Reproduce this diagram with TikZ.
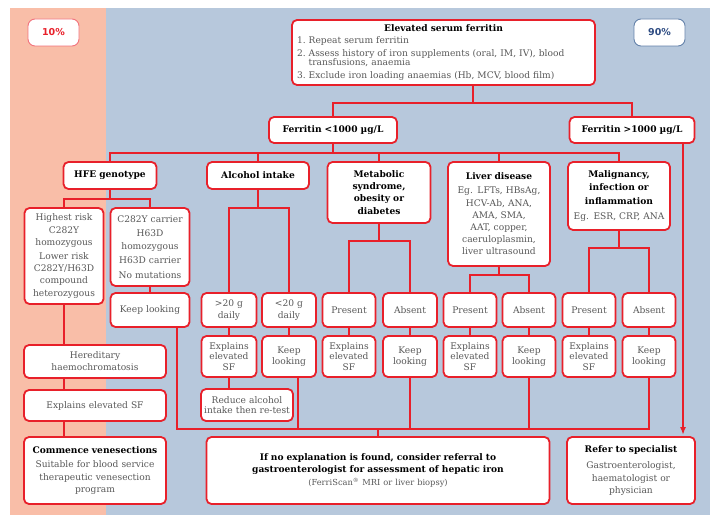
\documentclass[tikz,border=0pt]{standalone}
\usepackage{fontspec}
\setmainfont{DejaVu Serif}
\setsansfont{DejaVu Sans}
\usetikzlibrary{arrows.meta}

\definecolor{flowred}{RGB}{232,32,42}
\definecolor{salmon}{RGB}{249,190,168}
\definecolor{greyblue}{RGB}{183,200,220}
\definecolor{bodytext}{RGB}{88,88,88}
\definecolor{pctblue}{RGB}{45,75,130}
\definecolor{pctedge}{RGB}{100,130,170}
\definecolor{pctpink}{RGB}{242,115,125}

\newcommand{\boxhead}[1]{{\color{black}\bfseries #1}}

\begin{document}
\begin{tikzpicture}[x=1pt,y=-1pt]
    \tikzstyle{every node}=[font=\fontsize{9.1}{12.2}\selectfont, text=bodytext]
    \tikzstyle{box}=[draw=flowred, fill=white, line width=1.8pt, rounded corners=5pt, align=center, inner sep=2pt, outer sep=0pt]
    \tikzstyle{tight}=[box, font=\fontsize{9.1}{10.6}\selectfont]
    \tikzstyle{pct}=[fill=white, line width=0.9pt, rounded corners=7pt, minimum width=51pt, minimum height=27pt, font=\sffamily\bfseries\fontsize{9.5}{11}\selectfont]
    \tikzstyle{link}=[draw=flowred, line width=2pt]

    \useasboundingbox (0,0) rectangle (719,521);
    \fill[salmon] (10,8) rectangle (106,515);
    \fill[greyblue] (106,8) rectangle (710,515);

    \node[pct, draw=pctpink, text=flowred] (ten) at (53.5,32.5) {10\%};
    \node[pct, draw=pctedge, text=pctblue] (ninety) at (659.5,32.5) {90\%};

    \node[box, align=left, text width=299pt, minimum height=65pt] (serum) at (443.5,52.5)
    {\centerline{\boxhead{Elevated serum ferritin}}
    \hspace*{3pt}1.~Repeat serum ferritin\\[0.5pt]
    \hspace*{3pt}2.~Assess history of iron supplements (oral, IM, IV), blood\\[-2.5pt]
    \hspace*{3pt}\phantom{2.~}transfusions, anaemia\\[0.5pt]
    \hspace*{3pt}3.~Exclude iron loading anaemias (Hb, MCV, blood film)};

    \node[box, text width=124pt, minimum height=26pt] (low) at (333,130) {\boxhead{Ferritin <1000 µg/L}};
    \node[box, text width=121pt, minimum height=26pt] (high) at (632,130) {\boxhead{Ferritin >1000 µg/L}};

    \node[box, text width=89pt, minimum height=27pt] (hfe) at (110,175.5) {\boxhead{HFE genotype}};
    \node[box, text width=98pt, minimum height=27pt] (alcohol) at (258,175.5) {\boxhead{Alcohol intake}};
    \node[box, text width=99pt, minimum height=61pt] (metabolic) at (379,192.5)
    {\boxhead{Metabolic\\syndrome,\\obesity or\\diabetes}};
    \node[box, text width=98pt, minimum height=104pt] (liver) at (499,214)
    {\boxhead{Liver disease}\\[2pt]Eg. LFTs, HBsAg,\\HCV-Ab, ANA,\\AMA, SMA,\\AAT, copper,\\caeruloplasmin,\\liver ultrasound};
    \node[box, text width=98pt, minimum height=68pt] (malignancy) at (619,196)
    {\boxhead{Malignancy,\\[1pt]infection or\\[1pt]inflammation}\\[3pt]Eg. ESR, CRP, ANA};

    \node[box, text width=75pt, minimum height=96pt] (homo) at (64,256)
    {Highest risk\\C282Y\\homozygous\\[2pt]Lower risk\\C282Y/H63D\\compound\\heterozygous};
    \node[box, text width=75pt, minimum height=78pt] (carrier) at (150,247)
    {C282Y carrier\\[2.5pt]H63D\\homozygous\\[2.5pt]H63D carrier\\[2.5pt]No mutations};
    \node[box, text width=75pt, minimum height=34pt] (hfekeep) at (150,310) {Keep looking};

    \node[box, text width=51pt, minimum height=34pt] (gt20) at (229,310) {>20 g\\daily};
    \node[box, text width=50pt, minimum height=34pt] (lt20) at (289,310) {<20 g\\daily};
    \node[box, text width=49pt, minimum height=34pt] (metpres) at (349,310) {Present};
    \node[box, text width=50pt, minimum height=34pt] (metabs) at (410,310) {Absent};
    \node[box, text width=49pt, minimum height=34pt] (livpres) at (470,310) {Present};
    \node[box, text width=49pt, minimum height=34pt] (livabs) at (529,310) {Absent};
    \node[box, text width=49pt, minimum height=34pt] (malpres) at (589,310) {Present};
    \node[box, text width=49pt, minimum height=34pt] (malabs) at (649,310) {Absent};

    \node[tight, text width=51pt, minimum height=41pt] (alcexp) at (229,356.5) {Explains\\elevated\\SF};
    \node[tight, text width=50pt, minimum height=41pt] (alckeep) at (289,356.5) {Keep\\looking};
    \node[tight, text width=49pt, minimum height=41pt] (metexp) at (349,356.5) {Explains\\elevated\\SF};
    \node[tight, text width=50pt, minimum height=41pt] (metkeep) at (410,356.5) {Keep\\looking};
    \node[tight, text width=49pt, minimum height=41pt] (livexp) at (470,356.5) {Explains\\elevated\\SF};
    \node[tight, text width=49pt, minimum height=41pt] (livkeep) at (529,356.5) {Keep\\looking};
    \node[tight, text width=49pt, minimum height=41pt] (malexp) at (589,356.5) {Explains\\elevated\\SF};
    \node[tight, text width=49pt, minimum height=41pt] (malkeep) at (649,356.5) {Keep\\looking};
    \node[tight, text width=88pt, minimum height=32pt] (reduce) at (247,405) {Reduce alcohol\\intake then re-test};

    \node[box, text width=138pt, minimum height=33pt] (hh) at (95,361.5) {Hereditary\\haemochromatosis};
    \node[box, text width=138pt, minimum height=31pt] (hfeexp) at (95,405.5) {Explains elevated SF};
    \node[box, text width=138pt, minimum height=67pt] (commence) at (95,470.5)
    {\boxhead{Commence venesections}\\[2pt]Suitable for blood service\\therapeutic venesection\\program};
    \node[box, text width=339pt, minimum height=67pt] (noexp) at (378,470.5)
    {\boxhead{If no explanation is found, consider referral to\\gastroenterologist for assessment of hepatic iron}\\[1pt]
    {\fontsize{8.3}{10}\selectfont(FerriScan\textsuperscript{\textregistered} MRI or liver biopsy)}};
    \node[box, text width=124pt, minimum height=67pt] (refer) at (631,470.5)
    {\boxhead{Refer to specialist}\\[4pt]Gastroenterologist,\\haematologist or\\physician};

    \draw[link] ([xshift=29.5pt]serum.south) -- ++(0,18);
    \draw[link] (low.north) -- ++(0,-14) -| (high.north);
    \draw[link] (low.south) -- ++(0,10);
    \draw[link] (hfe.north) -- ++(0,-9) -| (malignancy.north);
    \draw[link] (alcohol.north) -- ++(0,-9);
    \draw[link] (metabolic.north) -- ++(0,-9);
    \draw[link] (liver.north) -- ++(0,-9);

    \draw[link] (hfe.south) -- ++(0,10) -| (homo.north);
    \draw[link] (hfe.south) ++(0,10) -| (carrier.north);
    \draw[link] (alcohol.south) -- ++(0,19) -| (gt20.north);
    \draw[link] (alcohol.south) ++(0,19) -| (lt20.north);
    \draw[link] (metabolic.south) -- ++(0,18) -| (metpres.north);
    \draw[link] (metabolic.south) ++(0,18) -| (metabs.north);
    \draw[link] (liver.south) -- ++(0,9) -| (livpres.north);
    \draw[link] (liver.south) ++(0,9) -| (livabs.north);
    \draw[link] (malignancy.south) -- ++(0,18) -| (malpres.north);
    \draw[link] (malignancy.south) ++(0,18) -| (malabs.north);

    \draw[link] (carrier) -- (hfekeep);
    \draw[link] (gt20) -- (alcexp);
    \draw[link] (lt20) -- (alckeep);
    \draw[link] (metpres) -- (metexp);
    \draw[link] (metabs) -- (metkeep);
    \draw[link] (livpres) -- (livexp);
    \draw[link] (livabs) -- (livkeep);
    \draw[link] (malpres) -- (malexp);
    \draw[link] (malabs) -- (malkeep);
    \draw[link] (alcexp) -- (alcexp |- reduce.north);

    \draw[link] (homo.south) -- (homo.south |- hh.north);
    \draw[link] (homo.south |- hh.south) -- (homo.south |- hfeexp.north);
    \draw[link] (homo.south |- hfeexp.south) -- (homo.south |- commence.north);

    \coordinate (join) at ([yshift=8pt]noexp.north);
    \draw[link] ([xshift=27pt]hfekeep.south) |- (join -| malkeep) -- (malkeep);
    \draw[link] ([xshift=9pt]alckeep.south) -- ([xshift=9pt]alckeep.south |- join);
    \draw[link] (metkeep) -- (metkeep |- join);
    \draw[link] (livkeep) -- (livkeep |- join);
    \draw[link] (join) -- (noexp);

    \draw[link, -{Latex[length=8pt,width=6pt]}, shorten >=2pt] ([xshift=51pt]high.south) -- ([xshift=51pt]high.south |- refer.north);

\end{tikzpicture}
\end{document}
